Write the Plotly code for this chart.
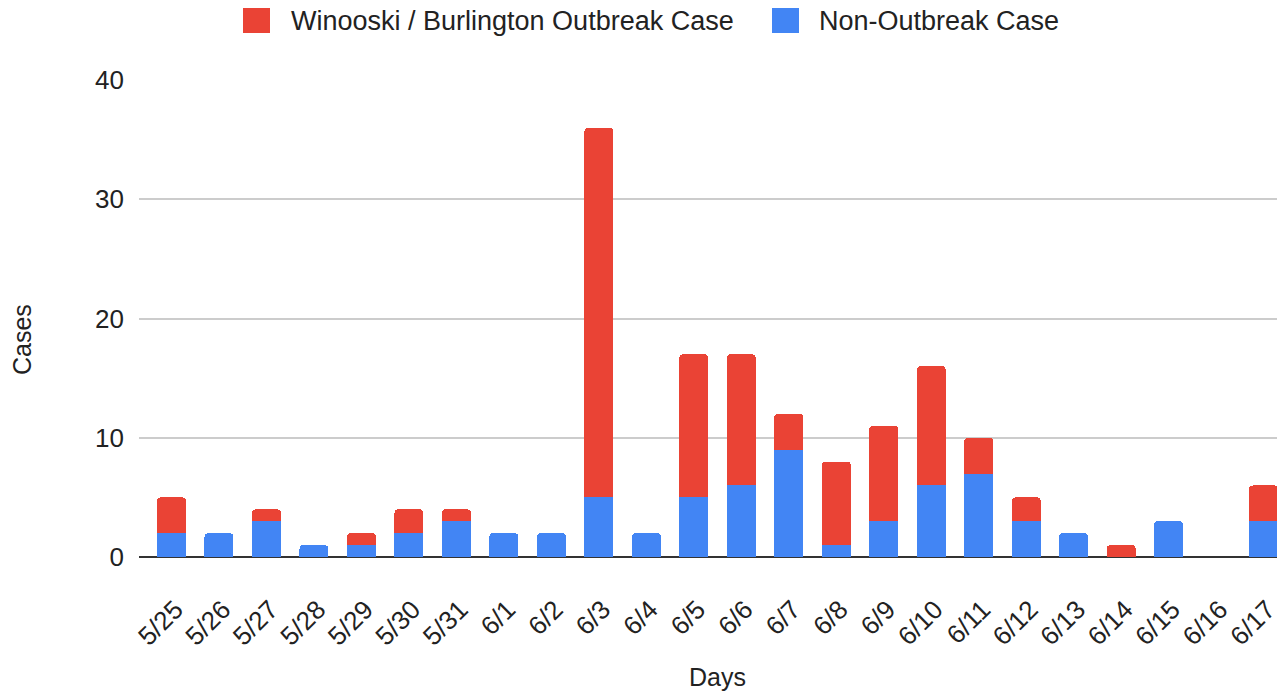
import plotly.graph_objects as go

days = ["5/25", "5/26", "5/27", "5/28", "5/29", "5/30", "5/31", "6/1", "6/2", "6/3",
        "6/4", "6/5", "6/6", "6/7", "6/8", "6/9", "6/10", "6/11", "6/12", "6/13",
        "6/14", "6/15", "6/16", "6/17"]
non_outbreak = [2, 2, 3, 1, 1, 2, 3, 2, 2, 5, 2, 5, 6, 9, 1, 3, 6, 7, 3, 2, 0, 3, 0, 3]
outbreak = [3, 0, 1, 0, 1, 2, 1, 0, 0, 31, 0, 12, 11, 3, 7, 8, 10, 3, 2, 0, 1, 0, 0, 3]
y_ticks = [0, 10, 20, 30, 40]

RED = "#EA4335"
BLUE = "#4285F4"
FONT = "Arial, Liberation Sans, sans-serif"
TEXT = "#222222"

# page body has an 8px margin; figure is sized to fill the rest of the window
OFF = 8
W, H = 1285 - OFF, 692 - OFF
L, R, T, B = 139 - OFF, 0, 80 - OFF, 692 - 557
PW, PH = W - L - R, H - T - B


def px(x):
    # window pixel x -> paper fraction
    return (x - OFF - L) / PW


def py(y):
    # window pixel y -> paper fraction
    return (557 - y) / PH


fig = go.Figure()
fig.add_trace(go.Bar(x=days, y=non_outbreak, name="Non-Outbreak Case",
                     marker=dict(color=BLUE, line=dict(width=0), cornerradius=4)))
fig.add_trace(go.Bar(x=days, y=outbreak, name="Winooski / Burlington Outbreak Case",
                     marker=dict(color=RED, line=dict(width=0), cornerradius=4)))

shapes = []
annotations = []
legend_items = [("Winooski / Burlington Outbreak Case", RED, 243, 290),
                ("Non-Outbreak Case", BLUE, 772, 818)]
for label, col, sx, tx in legend_items:
    shapes.append(dict(type="rect", xref="paper", yref="paper", x0=px(sx), x1=px(sx + 27),
                       y0=py(33), y1=py(6), fillcolor=col, line=dict(width=0), layer="above"))
    annotations.append(dict(text=label, xref="paper", yref="paper", x=px(tx), y=py(21),
                            xanchor="left", yanchor="middle", showarrow=False, borderpad=0,
                            font=dict(family=FONT, size=27, color=TEXT)))

annotations.append(dict(text="Days", xref="paper", yref="paper", x=px(718), y=py(677),
                        xanchor="center", yanchor="middle", showarrow=False,
                        font=dict(family=FONT, size=25, color=TEXT)))
annotations.append(dict(text="Cases", xref="paper", yref="paper", x=px(22), y=py(340),
                        xanchor="center", yanchor="middle", showarrow=False, textangle=-90,
                        font=dict(family=FONT, size=25, color=TEXT)))

fig.update_layout(
    width=W, height=H,
    margin=dict(l=L, r=R, t=T, b=B, autoexpand=False),
    barmode="stack",
    bargap=0.39,
    showlegend=False,
    plot_bgcolor="white",
    paper_bgcolor="white",
    font=dict(family=FONT, size=25, color=TEXT),
    shapes=shapes,
    annotations=annotations,
)
fig.update_xaxes(
    type="category",
    range=[-0.684, 23.45],
    tickangle=-45,
    tickfont=dict(family=FONT, size=26, color=TEXT),
    showgrid=False,
    showline=False,
    ticks="",
    ticklabelstandoff=31,
    ticklabelshift=4,
)
fig.update_yaxes(
    range=[0, 40],
    tickvals=y_ticks,
    tickfont=dict(family=FONT, size=26, color=TEXT),
    showgrid=True,
    gridcolor="#CCCCCC",
    gridwidth=1.5,
    zeroline=True,
    zerolinecolor="#333333",
    zerolinewidth=2,
    showline=False,
    ticks="",
    ticklabelstandoff=14,
)

fig.write_html("out.html")
